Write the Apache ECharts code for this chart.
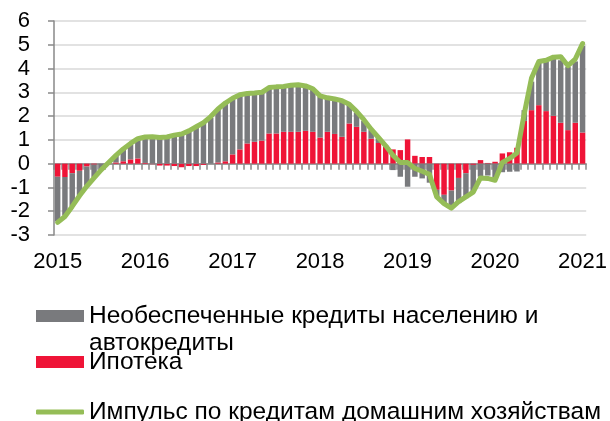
<!DOCTYPE html>
<html>
<head>
<meta charset="utf-8">
<script src="https://cdn.jsdelivr.net/npm/echarts@6/dist/echarts.min.js"></script>
<style>
  html, body { margin: 0; padding: 0; background: #fff; }
  #chart { width: 610px; height: 421px; }
</style>
</head>
<body>
<div id="chart"></div>
<script>
// подписи лет на оси X
var yearLabels = ["2015", "2016", "2017", "2018", "2019", "2020", "2021"];

// месяцы: янв 2015 - янв 2021
var months = [];
for (var y = 2015; y <= 2021; y++) {
  for (var m = 1; m <= 12; m++) {
    if (y === 2021 && m > 1) break;
    months.push(y + "-" + (m < 10 ? "0" + m : m));
  }
}

// Ипотека
var mortgage = [
  -0.55, -0.56, -0.40, -0.30, -0.12, -0.04, 0.00, 0.02, 0.05, 0.10, 0.18, 0.22,
  0.03, -0.02, -0.08, -0.08, -0.10, -0.15, -0.10, -0.10, -0.05, 0.00, 0.05, 0.10,
  0.39, 0.60, 0.85, 0.92, 0.97, 1.27, 1.27, 1.34, 1.34, 1.34, 1.38, 1.34,
  1.10, 1.34, 1.25, 1.13, 1.69, 1.55, 1.34, 1.05, 0.87, 0.71, 0.60, 0.57,
  1.02, 0.33, 0.28, 0.28, -1.10, -1.31, -1.13, -0.60, -0.40, -0.05, 0.15, 0.03,
  0.08, 0.43, 0.48, 0.67, 1.80, 2.25, 2.46, 2.21, 2.01, 1.72, 1.41, 1.72,
  1.31
];

// Необеспеченные кредиты населению и автокредиты
var unsecured = [
  -1.88, -1.62, -1.38, -1.03, -0.81, -0.54, -0.25, 0.03, 0.27, 0.48, 0.62, 0.78,
  1.05, 1.10, 1.08, 1.10, 1.18, 1.25, 1.37, 1.52, 1.68, 1.93, 2.22, 2.42,
  2.30, 2.25, 2.05, 2.03, 2.00, 1.90, 1.93, 1.88, 1.93, 1.95, 1.86, 1.78,
  1.72, 1.40, 1.45, 1.50, 0.78, 0.60, 0.46, 0.36, 0.20, 0.05, -0.27, -0.55,
  -0.97, -0.55, -0.62, -0.80, -0.28, -0.39, -0.74, -1.06, -1.05, -1.15, -0.55, -0.50,
  -0.62, -0.36, -0.34, -0.33, 0.45, 1.20, 1.79, 2.09, 2.41, 2.63, 2.66, 2.58,
  3.64
];

// Импульс по кредитам домашним хозяйствам
var impulse = [
  -2.47, -2.22, -1.80, -1.35, -0.95, -0.60, -0.25, 0.05, 0.35, 0.62, 0.85, 1.05,
  1.12, 1.13, 1.10, 1.12, 1.20, 1.25, 1.38, 1.55, 1.72, 1.98, 2.30, 2.55,
  2.75, 2.90, 2.95, 2.97, 3.00, 3.20, 3.23, 3.25, 3.30, 3.32, 3.27, 3.15,
  2.85, 2.77, 2.72, 2.65, 2.50, 2.20, 1.85, 1.45, 1.10, 0.75, 0.35, 0.05,
  0.05, -0.20, -0.32, -0.45, -1.40, -1.68, -1.87, -1.60, -1.40, -1.20, -0.60, -0.62,
  -0.70, 0.05, 0.22, 0.45, 2.10, 3.60, 4.30, 4.35, 4.48, 4.50, 4.12, 4.40,
  5.05
];

var font = "Liberation Sans, Arial, sans-serif";
var axisGrey = "#898989";
var names = {
  grey: "Необеспеченные кредиты населению и\nавтокредиты",
  red: "Ипотека",
  line: "Импульс по кредитам домашним хозяйствам"
};

var option = {
  backgroundColor: "#fff",
  animation: false,
  textStyle: { fontFamily: font },
  grid: { left: 54, top: 21, width: 538, height: 214 },
  legend: [
    {
      data: [names.grey],
      left: 36, top: 275.5, padding: 0,
      icon: "rect", itemWidth: 48, itemHeight: 12,
      // пустая первая строка, чтобы значок стоял у первой строки текста
      formatter: function (name) { return "\n" + name; },
      textStyle: { fontSize: 24.5, color: "#000", lineHeight: 27 }
    },
    {
      data: [names.red],
      left: 36, top: 348.5, padding: 0,
      icon: "rect", itemWidth: 48, itemHeight: 12,
      textStyle: { fontSize: 24.5, color: "#000", lineHeight: 27 }
    },
    {
      data: [names.line],
      left: 36, top: 398.5, padding: 0,
      icon: "roundRect", itemWidth: 48, itemHeight: 5,
      textStyle: { fontSize: 24.5, color: "#000", lineHeight: 27 }
    }
  ],
  xAxis: [
    {
      type: "category",
      data: months,
      boundaryGap: true,
      axisLine: { onZero: true, lineStyle: { color: axisGrey, width: 1.5 } },
      axisTick: { show: true, interval: 0, length: 6, lineStyle: { color: axisGrey, width: 1.5 } },
      axisLabel: { show: false }
    },
    {
      type: "category",
      data: months,
      position: "bottom",
      boundaryGap: true,
      axisLine: { show: false, onZero: false },
      axisTick: { show: false },
      axisLabel: {
        interval: 11,
        margin: 16,
        fontSize: 22,
        color: "#000",
        formatter: function (v) {
          var y = v.slice(0, 4);
          return yearLabels.indexOf(y) >= 0 ? y : "";
        }
      }
    }
  ],
  yAxis: {
    type: "value",
    min: -3,
    max: 6,
    interval: 1,
    axisLine: { show: true, lineStyle: { color: axisGrey, width: 1.5 } },
    axisTick: { show: true, length: 6, lineStyle: { color: axisGrey, width: 1.5 } },
    axisLabel: { fontSize: 22, color: "#000", margin: 24 },
    splitLine: { lineStyle: { color: "#d9d9d9", width: 1.5 } }
  },
  series: [
    {
      name: names.red,
      type: "bar",
      stack: "total",
      barCategoryGap: "25%",
      itemStyle: { color: "#ef1437" },
      data: mortgage
    },
    {
      name: names.grey,
      type: "bar",
      stack: "total",
      barCategoryGap: "25%",
      itemStyle: { color: "#797a7d" },
      data: unsecured
    },
    {
      name: names.line,
      type: "line",
      symbol: "none",
      z: 5,
      itemStyle: { color: "#95bd57" },
      lineStyle: { color: "#95bd57", width: 5, cap: "round", join: "round" },
      data: impulse
    }
  ]
};

var chart = echarts.init(document.getElementById("chart"));
chart.setOption(option);
</script>
</body>
</html>
